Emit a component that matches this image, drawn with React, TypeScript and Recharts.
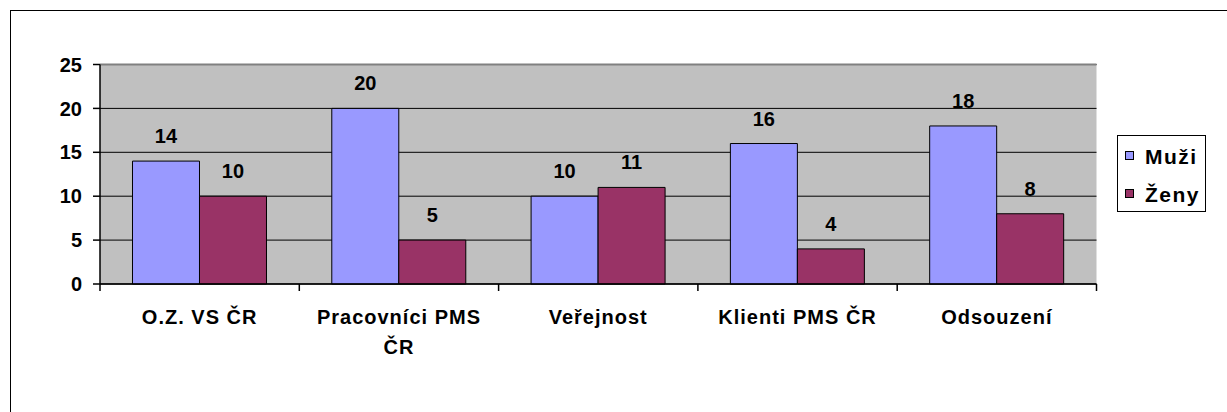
import React from "react";
import {
  BarChart,
  Bar,
  XAxis,
  YAxis,
  CartesianGrid,
  Legend,
  LabelList,
  ReferenceLine,
} from "recharts";

const categories = ["O.Z. VS ČR", "Pracovníci PMS ČR", "Veřejnost", "Klienti PMS ČR", "Odsouzení"];
const muzi = [14, 20, 10, 16, 18];
const zeny = [10, 5, 11, 4, 8];
const yTicks = [0, 5, 10, 15, 20, 25];
const seriesNames = ["Muži", "Ženy"];
const seriesColors = ["#9999FF", "#993366"];

const data = categories.map((c, i) => ({ name: c, muzi: muzi[i], zeny: zeny[i] }));

const FONT = "'Liberation Sans', Arial, Helvetica, sans-serif";
const W = 1227;
const H = 412;
const PLOT_LEFT = 100;
const PLOT_RIGHT = 1096.5;
const PLOT_TOP = 64.5;
const PLOT_BOTTOM = 284;
const Y_AXIS_W = 60;
const X_AXIS_H = 60;
const BAND = (PLOT_RIGHT - PLOT_LEFT) / categories.length;
const MAX_CHARS = 15;

function wrapWords(s: string): string[] {
  const words = String(s).split(" ");
  const lines: string[] = [];
  let cur = "";
  for (const w of words) {
    const cand = cur ? cur + " " + w : w;
    if (cand.length > MAX_CHARS && cur) {
      lines.push(cur);
      cur = w;
    } else {
      cur = cand;
    }
  }
  if (cur) lines.push(cur);
  return lines;
}

const XTick = (props: any) => {
  const { x, y, payload, index } = props;
  const half = BAND / 2;
  const lines = wrapWords(payload.value);
  return (
    <g>
      <line x1={x - half} y1={y} x2={x - half} y2={y + 7} stroke="#000" strokeWidth={1.5} />
      {index === categories.length - 1 && (
        <line x1={x + half} y1={y} x2={x + half} y2={y + 7} stroke="#000" strokeWidth={1.5} />
      )}
      <text
        x={x}
        y={y + 39.5}
        textAnchor="middle"
        fill="#000"
        style={{ fontSize: 20, fontWeight: "bold", fontFamily: FONT, letterSpacing: 1 }}
      >
        {lines.map((l, i) => (
          <tspan key={i} x={x} dy={i === 0 ? 0 : 30}>
            {l}
          </tspan>
        ))}
      </text>
    </g>
  );
};

const renderLegend = () => (
  <div
    style={{
      position: "relative",
      width: 89,
      height: 77,
      boxSizing: "border-box",
      border: "1px solid #000",
      background: "#fff",
      fontFamily: FONT,
    }}
  >
    {seriesNames.map((n, i) => (
      <React.Fragment key={n}>
        <div
          style={{
            position: "absolute",
            left: 7,
            top: 15 + i * 38,
            width: 9,
            height: 9,
            boxSizing: "border-box",
            border: "1px solid #000",
            background: seriesColors[i],
          }}
        />
        <span
          style={{
            position: "absolute",
            left: 27,
            top: 11 + i * 38,
            fontSize: 21,
            lineHeight: "20px",
            fontWeight: "bold",
            letterSpacing: 1.5,
            color: "#000",
            whiteSpace: "nowrap",
          }}
        >
          {n}
        </span>
      </React.Fragment>
    ))}
  </div>
);

export default function App() {
  return (
    <div style={{ position: "fixed", left: 0, top: 0, width: W, height: H, overflow: "hidden", background: "#fff" }}>
      <div
        style={{
          position: "absolute",
          left: 10,
          top: 10,
          width: 1500,
          height: 700,
          border: "1px solid #000",
          boxSizing: "border-box",
        }}
      />
      <div style={{ position: "absolute", left: 0, top: 0 }}>
        <BarChart
          width={W}
          height={H}
          data={data}
          margin={{
            top: PLOT_TOP,
            left: PLOT_LEFT - Y_AXIS_W,
            right: W - PLOT_RIGHT,
            bottom: H - PLOT_BOTTOM - X_AXIS_H,
          }}
          barCategoryGap="16.3%"
          barGap={0}
        >
          <CartesianGrid vertical={false} stroke="#000" strokeWidth={1} fill="#C0C0C0" fillOpacity={1} />
          <XAxis
            dataKey="name"
            interval={0}
            height={X_AXIS_H}
            tickSize={0}
            tickMargin={0}
            tickLine={false}
            axisLine={{ stroke: "#000", strokeWidth: 1.5 }}
            tick={<XTick />}
          />
          <YAxis
            domain={[0, 25]}
            ticks={yTicks}
            interval={0}
            width={Y_AXIS_W}
            tickSize={7}
            tickMargin={11}
            tickLine={{ stroke: "#000", strokeWidth: 1.5 }}
            axisLine={{ stroke: "#000", strokeWidth: 1.5 }}
            tick={{ fontSize: 20, fontWeight: "bold", fill: "#000", fontFamily: FONT }}
          />
          <YAxis
            yAxisId="right"
            orientation="right"
            domain={[0, 25]}
            width={0}
            tick={false}
            tickLine={false}
            axisLine={{ stroke: "#808080", strokeWidth: 2 }}
          />
          <ReferenceLine y={25} stroke="#808080" strokeWidth={2} />
          <Legend
            layout="horizontal"
            verticalAlign="middle"
            align="center"
            content={renderLegend}
            wrapperStyle={{ left: 1117, top: 135, width: 89, height: 77 }}
          />
          <Bar dataKey="muzi" name={seriesNames[0]} fill={seriesColors[0]} stroke="#000" strokeWidth={1} isAnimationActive={false}>
            <LabelList
              dataKey="muzi"
              position="top"
              offset={18}
              fill="#000"
              style={{ fontSize: 20, fontWeight: "bold", fontFamily: FONT }}
            />
          </Bar>
          <Bar dataKey="zeny" name={seriesNames[1]} fill={seriesColors[1]} stroke="#000" strokeWidth={1} isAnimationActive={false}>
            <LabelList
              dataKey="zeny"
              position="top"
              offset={18}
              fill="#000"
              style={{ fontSize: 20, fontWeight: "bold", fontFamily: FONT }}
            />
          </Bar>
        </BarChart>
      </div>
    </div>
  );
}
